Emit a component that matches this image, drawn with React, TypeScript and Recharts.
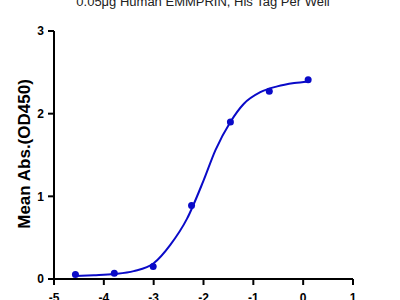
import React from 'react';
import { ComposedChart, Line, Scatter, XAxis, YAxis } from 'recharts';

// log concentration (x) vs mean OD450
const pointX = [-4.57, -3.79, -3.01, -2.24, -1.46, -0.68, 0.1];
const pointY = [0.055, 0.07, 0.15, 0.89, 1.9, 2.27, 2.41];

// fitted curve
const curveX = [-4.58, -4.2, -3.79, -3.4, -3.0, -2.67, -2.33, -2.0, -1.76, -1.46, -1.19, -0.86, -0.52, -0.18, 0.1];
const curveY = [0.035, 0.045, 0.06, 0.095, 0.19, 0.41, 0.73, 1.19, 1.56, 1.9, 2.12, 2.26, 2.33, 2.37, 2.39];

const xTicks = [-5, -4, -3, -2, -1, 0, 1];
const yTicks = [0, 1, 2, 3];

const title = '0.05μg Human EMMPRIN, His Tag Per Well';
const yLabel = 'Mean Abs.(OD450)';

const points = pointX.map((x, i) => ({ x, y: pointY[i] }));
const curve = curveX.map((x, i) => ({ x, y: curveY[i] }));

const blue = '#0a0ac8';
const font = '"Liberation Sans", Arial, sans-serif';
const axisStyle = { stroke: '#000', strokeWidth: 2 };

export default function App() {
  return (
    <div style={{ position: 'absolute', left: 0, top: 0, width: 400, height: 300, background: '#fff', fontFamily: font }}>
      <svg width={400} height={300} style={{ position: 'absolute', left: 0, top: 0 }}>
        <text x={203} y={6} textAnchor='middle' fontSize={13} fill='#222' fontFamily={font}>
          {title}
        </text>
      </svg>
      <ComposedChart
        width={400}
        height={300}
        margin={{ top: 31, right: 47, bottom: 0, left: 0 }}
        style={{ position: 'absolute', left: 0, top: 0 }}
      >
        <XAxis
          dataKey='x'
          type='number'
          domain={[-5, 1]}
          ticks={xTicks}
          interval={0}
          height={21}
          axisLine={axisStyle}
          tickLine={axisStyle}
          tickSize={6}
          tickMargin={8}
          tick={{ fill: '#000', fontSize: 12, fontWeight: 'bold', fontFamily: font }}
        />
        <YAxis
          dataKey='y'
          type='number'
          domain={[0, 3]}
          ticks={yTicks}
          interval={0}
          width={54}
          axisLine={axisStyle}
          tickLine={axisStyle}
          tickSize={6}
          tickMargin={4}
          tick={{ fill: '#000', fontSize: 12, fontWeight: 'bold', fontFamily: font }}
          label={{
            content: () => (
              <text
                x={24}
                y={154}
                transform='rotate(-90 24 154)'
                textAnchor='middle'
                dominantBaseline='central'
                fontSize={17}
                fontWeight='bold'
                fill='#000'
                fontFamily={font}
              >
                {yLabel}
              </text>
            ),
          }}
        />
        <Line
          data={curve}
          dataKey='y'
          type='monotone'
          stroke={blue}
          strokeWidth={2}
          dot={false}
          activeDot={false}
          isAnimationActive={false}
        />
        <Scatter
          data={points}
          dataKey='y'
          fill={blue}
          isAnimationActive={false}
          shape={(p: any) => <circle cx={p.cx} cy={p.cy} r={3.5} fill={blue} />}
        />
      </ComposedChart>
    </div>
  );
}
